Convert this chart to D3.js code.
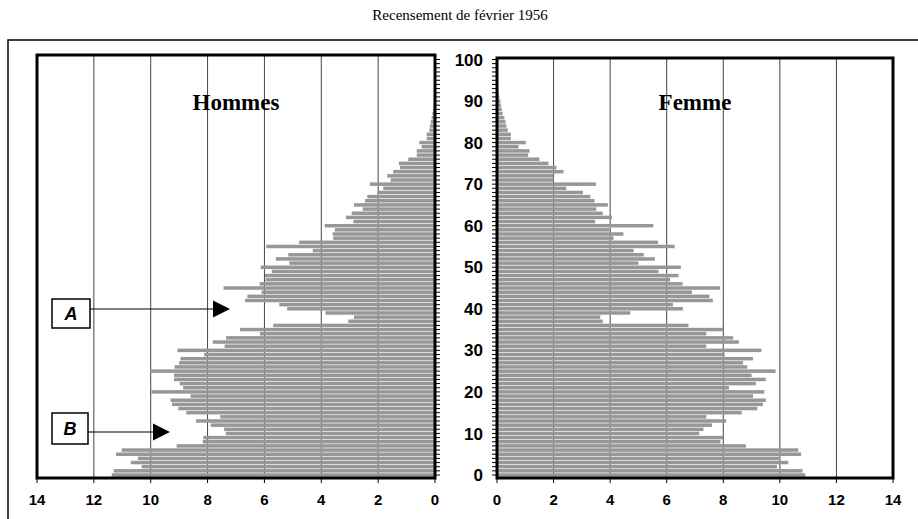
<!DOCTYPE html>
<html lang="fr">
<head>
<meta charset="UTF-8">
<title>Recensement de février 1956</title>
<script src="https://d3js.org/d3.v7.min.js"></script>
<style>
    body {margin: 0; background: #fff;}
    svg {display: block;}
    .tick-lbl {font-family: Arial, "Liberation Sans", sans-serif; font-weight: bold;}
</style>
</head>
<body>
<svg id="chart" width="918" height="519"></svg>
<script>
// age groups 0..94, share per thousand
let hommes = [11.37, 11.3, 10.32, 10.7, 10.45, 11.22, 11.02, 9.09, 8.17, 8.15,
    7.36, 7.42, 7.89, 8.41, 7.55, 8.75, 9.03, 9.25, 9.3, 8.6,
    9.97, 8.86, 8.98, 9.18, 9.18, 10.02, 9.16, 9.0, 8.95, 8.12,
    9.06, 7.4, 7.82, 7.35, 6.16, 6.86, 5.69, 3.05, 2.85, 3.85,
    5.2, 5.48, 6.68, 6.6, 6.1, 7.44, 6.17, 5.96, 5.98, 5.74,
    6.13, 5.12, 5.6, 5.16, 4.3, 5.94, 4.78, 3.58, 3.6, 3.52,
    3.88, 2.87, 3.13, 2.93, 2.54, 2.85, 2.46, 2.38, 2.03, 1.82,
    2.29, 1.56, 1.68, 1.47, 1.23, 1.27, 0.94, 0.64, 0.64, 0.47,
    0.55, 0.29, 0.29, 0.2, 0.18, 0.15, 0.12, 0.09, 0.07, 0.05,
    0.04, 0.03, 0.03, 0.02, 0.02]
let femmes = [10.9, 10.8, 9.9, 10.3, 10.0, 10.75, 10.65, 8.8, 7.9, 8.0,
    7.15, 7.3, 7.6, 8.1, 7.4, 8.65, 9.2, 9.4, 9.5, 9.05,
    9.45, 8.2, 9.15, 9.5, 9.0, 9.85, 8.85, 8.7, 9.05, 8.05,
    9.35, 7.4, 8.55, 8.35, 7.4, 8.0, 6.77, 3.74, 3.65, 4.71,
    6.57, 6.22, 7.63, 7.51, 6.89, 7.89, 6.56, 6.12, 6.42, 5.71,
    6.5, 5.0, 5.58, 5.19, 4.83, 6.28, 5.69, 4.12, 4.47, 3.98,
    5.53, 3.47, 4.06, 3.74, 3.51, 3.92, 3.45, 3.3, 3.04, 2.45,
    3.5, 2.0, 2.0, 2.35, 2.1, 1.82, 1.5, 1.1, 1.15, 0.76,
    1.02, 0.49, 0.49, 0.38, 0.33, 0.3, 0.26, 0.2, 0.17, 0.14,
    0.12, 0.08, 0.06, 0.04, 0.03]
let xTicks = [0, 2, 4, 6, 8, 10, 12, 14]
let ageTicks = [0, 10, 20, 30, 40, 50, 60, 70, 80, 90, 100]
let titre = "Recensement de février 1956"
let notes = [{label: "A", age: 40}, {label: "B", age: 11}]

let svg = d3.select("#chart")

let y = d3.scaleLinear().domain([0, 100]).range([475, 59.5])
let xL = d3.scaleLinear().domain([14, 0]).range([37, 435])
let xR = d3.scaleLinear().domain([0, 14]).range([497, 893])
let barH = 3.5
let barColor = "#979797"

// outer frame (cut by page edges)
svg.append("rect")
    .attr("x", 8).attr("y", 40).attr("width", 940).attr("height", 520)
    .attr("fill", "none").attr("stroke", "#000").attr("stroke-width", 1.5)

svg.append("text")
    .attr("x", 460).attr("y", 20)
    .attr("text-anchor", "middle")
    .style("font-family", "'Liberation Serif', 'Times New Roman', serif")
    .style("font-size", "15px")
    .text(titre)

function panel(x, data, top, side, name) {
    let g = svg.append("g")
    let [x0, x1] = d3.extent(x.range())

    // vertical grid
    g.selectAll(".grid").data(xTicks.slice(1, -1)).join("line")
        .attr("x1", d => x(d)).attr("x2", d => x(d))
        .attr("y1", top).attr("y2", 478)
        .attr("stroke", "#444").attr("stroke-width", 1)

    // bars
    g.selectAll(".bar").data(data).join("rect")
        .attr("x", d => Math.min(x(0), x(d)))
        .attr("width", d => Math.abs(x(d) - x(0)))
        .attr("y", (d, i) => y(i) - barH / 2)
        .attr("height", barH)
        .attr("fill", barColor)

    // minor age ticks on the centre side
    let ax = side === "left" ? x1 : x0
    let dir = side === "left" ? 1 : -1
    g.selectAll(".mt").data(d3.range(0, 101)).join("line")
        .attr("x1", ax).attr("x2", ax + dir * 5)
        .attr("y1", d => y(d)).attr("y2", d => y(d))
        .attr("stroke", "#000").attr("stroke-width", 1)

    // frame
    g.append("rect")
        .attr("x", x0).attr("y", top)
        .attr("width", x1 - x0).attr("height", 478 - top)
        .attr("fill", "none").attr("stroke", "#000").attr("stroke-width", 3)

    // x axis ticks and labels
    g.selectAll(".xt").data(xTicks).join("line")
        .attr("x1", d => x(d)).attr("x2", d => x(d))
        .attr("y1", 479).attr("y2", 483)
        .attr("stroke", "#000")
    g.selectAll(".xl").data(xTicks).join("text")
        .attr("class", "tick-lbl")
        .attr("x", d => x(d)).attr("y", 505)
        .attr("text-anchor", "middle")
        .style("font-size", "15px")
        .text(d => d)

    g.append("text")
        .attr("x", (x0 + x1) / 2).attr("y", 110)
        .attr("text-anchor", "middle")
        .style("font-family", "'Liberation Serif', 'Times New Roman', serif")
        .style("font-weight", "bold")
        .style("font-size", "23px")
        .text(name)
}

panel(xL, hommes, 55, "left", "Hommes")
panel(xR, femmes, 58, "right", "Femme")

// age labels between the two panels
svg.selectAll(".yl").data(ageTicks).join("text")
    .attr("class", "tick-lbl")
    .attr("x", 483).attr("y", d => y(d))
    .attr("dy", "0.36em")
    .attr("text-anchor", "end")
    .style("font-size", "17px")
    .text(d => d)

// annotations A and B
let boxes = [{x: 52, y: 299, w: 38, h: 29, tip: 230, ay: 309},
             {x: 52, y: 413, w: 36, h: 31, tip: 170, ay: 432}]
notes.forEach((n, i) => {
    let b = boxes[i]
    svg.append("rect")
        .attr("x", b.x).attr("y", b.y).attr("width", b.w).attr("height", b.h)
        .attr("fill", "#fff").attr("stroke", "#000").attr("stroke-width", 1.5)
    svg.append("text")
        .attr("x", b.x + b.w / 2).attr("y", b.y + b.h / 2)
        .attr("dy", "0.36em").attr("text-anchor", "middle")
        .style("font-family", "Arial, 'Liberation Sans', sans-serif")
        .style("font-weight", "bold").style("font-style", "italic")
        .style("font-size", "18px")
        .text(n.label)
    svg.append("line")
        .attr("x1", b.x + b.w).attr("x2", b.tip - 17)
        .attr("y1", b.ay).attr("y2", b.ay)
        .attr("stroke", "#000").attr("stroke-width", 1.2)
    svg.append("path")
        .attr("d", `M${b.tip - 17},${b.ay - 8.5}L${b.tip},${b.ay}L${b.tip - 17},${b.ay + 8.5}Z`)
        .attr("fill", "#000")
})
</script>
</body>
</html>
